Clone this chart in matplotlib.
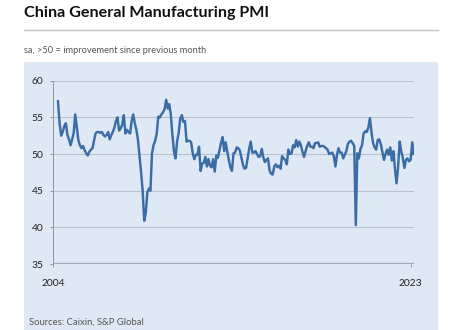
import numpy as np
import pandas as pd
import matplotlib
import matplotlib.pyplot as plt
from matplotlib.patches import Rectangle
from matplotlib.lines import Line2D

matplotlib.use("Agg")

# monthly PMI readings, Apr 2004 - Mar 2023
pmi_2004 = [57.2, 54.3, 52.5, 53.0, 53.8, 54.2, 52.6, 52.0, 51.2]
pmi_2005 = [52.0, 52.9, 55.4, 53.7, 51.9, 51.2, 50.8, 51.1, 50.5, 50.1, 49.8, 50.3]
pmi_2006 = [50.6, 50.8, 51.8, 52.8, 53.0, 53.0, 52.9, 53.0, 52.6, 52.4, 52.6, 53.0]
pmi_2007 = [52.0, 52.6, 53.0, 53.6, 54.5, 55.0, 53.2, 53.5, 54.0, 55.3, 52.8, 53.3]
pmi_2008 = [53.0, 52.8, 54.5, 55.4, 54.2, 53.3, 52.0, 49.8, 47.5, 45.0, 40.9, 42.0]
pmi_2009 = [44.8, 45.3, 45.0, 50.1, 51.2, 51.8, 52.8, 55.1, 55.0, 55.4, 55.7, 56.1]
pmi_2010 = [57.4, 56.2, 56.8, 55.4, 52.7, 50.4, 49.4, 51.7, 52.9, 54.8, 55.3, 54.4]
pmi_2011 = [54.5, 51.7, 51.8, 51.8, 51.6, 50.1, 49.3, 49.9, 49.9, 51.0, 47.7, 48.7]
pmi_2012 = [48.8, 49.6, 48.3, 49.3, 48.4, 48.2, 49.3, 47.6, 49.8, 49.5, 50.5, 51.5]
pmi_2013 = [52.3, 50.4, 51.6, 50.4, 49.2, 48.2, 47.7, 50.1, 50.2, 50.9, 50.8, 50.5]
pmi_2014 = [49.5, 48.5, 48.0, 48.1, 49.4, 50.7, 51.7, 50.2, 50.2, 50.4, 50.0, 49.6]
pmi_2015 = [49.7, 50.7, 49.6, 48.9, 49.2, 49.4, 47.8, 47.3, 47.2, 48.3, 48.6, 48.2]
pmi_2016 = [48.4, 48.0, 49.7, 49.4, 49.2, 48.6, 50.6, 50.0, 50.1, 51.2, 50.9, 51.9]
pmi_2017 = [51.0, 51.7, 51.2, 50.3, 49.6, 50.4, 51.1, 51.6, 51.0, 51.0, 50.8, 51.5]
pmi_2018 = [51.5, 51.6, 51.0, 51.1, 51.1, 51.0, 50.8, 50.6, 50.0, 50.1, 50.2, 49.7]
pmi_2019 = [48.3, 49.9, 50.8, 50.2, 50.2, 49.4, 49.9, 50.4, 51.4, 51.7, 51.8, 51.5]
pmi_2020 = [51.1, 40.3, 50.1, 49.4, 50.7, 51.2, 52.8, 53.1, 53.0, 53.6, 54.9, 53.0]
pmi_2021 = [51.5, 50.9, 50.6, 51.9, 52.0, 51.3, 50.3, 49.2, 50.0, 50.6, 49.9, 50.9]
pmi_2022 = [49.1, 50.4, 48.1, 46.0, 48.1, 51.7, 50.4, 49.5, 48.1, 49.2, 49.4, 49.0]
pmi_2023 = [49.2, 51.6, 50.0]

yearly = [pmi_2004, pmi_2005, pmi_2006, pmi_2007, pmi_2008, pmi_2009, pmi_2010,
          pmi_2011, pmi_2012, pmi_2013, pmi_2014, pmi_2015, pmi_2016, pmi_2017,
          pmi_2018, pmi_2019, pmi_2020, pmi_2021, pmi_2022, pmi_2023]
values = [v for year in yearly for v in year]
dates = pd.date_range("2004-04-01", periods=len(values), freq="MS")

y_ticks = [35, 40, 45, 50, 55, 60]
x_tick_labels = ["2004", "2023"]

title = "China General Manufacturing PMI"
subtitle = "sa, >50 = improvement since previous month"
source = "Sources: Caixin, S&P Global"

panel_bg = "#dfe8f5"
line_blue = "#3a6da6"
grid_grey = "#b9c2cc"
text_grey = "#555555"

W, H = 471, 330
fig = plt.figure(figsize=(W / 100, H / 100), dpi=100)

# light blue panel behind the chart
fig.patches.append(
    Rectangle((24 / W, 0), (437.5 - 24) / W, (H - 62) / H,
              transform=fig.transFigure, facecolor=panel_bg, edgecolor="none", zorder=-5)
)
fig.lines.append(
    Line2D([24 / W, 437.5 / W], [(H - 29.5) / H] * 2, transform=fig.transFigure,
           color="#c4c4c4", lw=1.0)
)

fig.text(24 / W, (H - 17) / H, title, fontsize=11.6, fontweight="bold",
         family=["Lato", "DejaVu Sans"], color="#111111", va="baseline")
fig.text(24 / W, (H - 53) / H, subtitle, fontsize=6.7,
         family=["Lato", "DejaVu Sans"], color=text_grey, va="baseline")
fig.text(29 / W, (H - 325) / H, source, fontsize=6.8,
         family=["Lato", "DejaVu Sans"], color=text_grey, va="baseline")

ax = fig.add_axes([53.3 / W, (H - 264) / H, (413.7 - 53.3) / W, (264 - 80.7) / H])
ax.set_zorder(5)
ax.patch.set_visible(False)

ax.plot(dates, values, color=line_blue, lw=1.75, solid_joinstyle="round", zorder=3)

ax.set_ylim(35, 60)
ax.set_xlim(pd.Timestamp("2004-01-01"), dates[-1])
ax.set_yticks(y_ticks)
ax.set_xticks([pd.Timestamp(f"{lab}-01-01") for lab in x_tick_labels])
ax.set_xticklabels(x_tick_labels)

for y in y_ticks[1:]:
    ax.axhline(y, color=grid_grey, lw=0.8, zorder=1)
ax.axhline(35, color="#a2aab3", lw=1.6, zorder=2)

for side in ["top", "right", "bottom"]:
    ax.spines[side].set_visible(False)
ax.spines["left"].set_color("#8f98a2")
ax.spines["left"].set_linewidth(0.7)

tick_font = ["Lato", "DejaVu Sans"]
ax.tick_params(axis="y", length=2.5, width=0.7, color="#8f98a2", pad=4.5,
               labelsize=7.4, labelcolor="#222222")
ax.tick_params(axis="x", length=2.5, width=0.7, color="#8f98a2", pad=8,
               labelsize=7.4, labelcolor="#222222")
for lab in ax.get_xticklabels() + ax.get_yticklabels():
    lab.set_family(tick_font)

fig.savefig("out.png", dpi=100)
